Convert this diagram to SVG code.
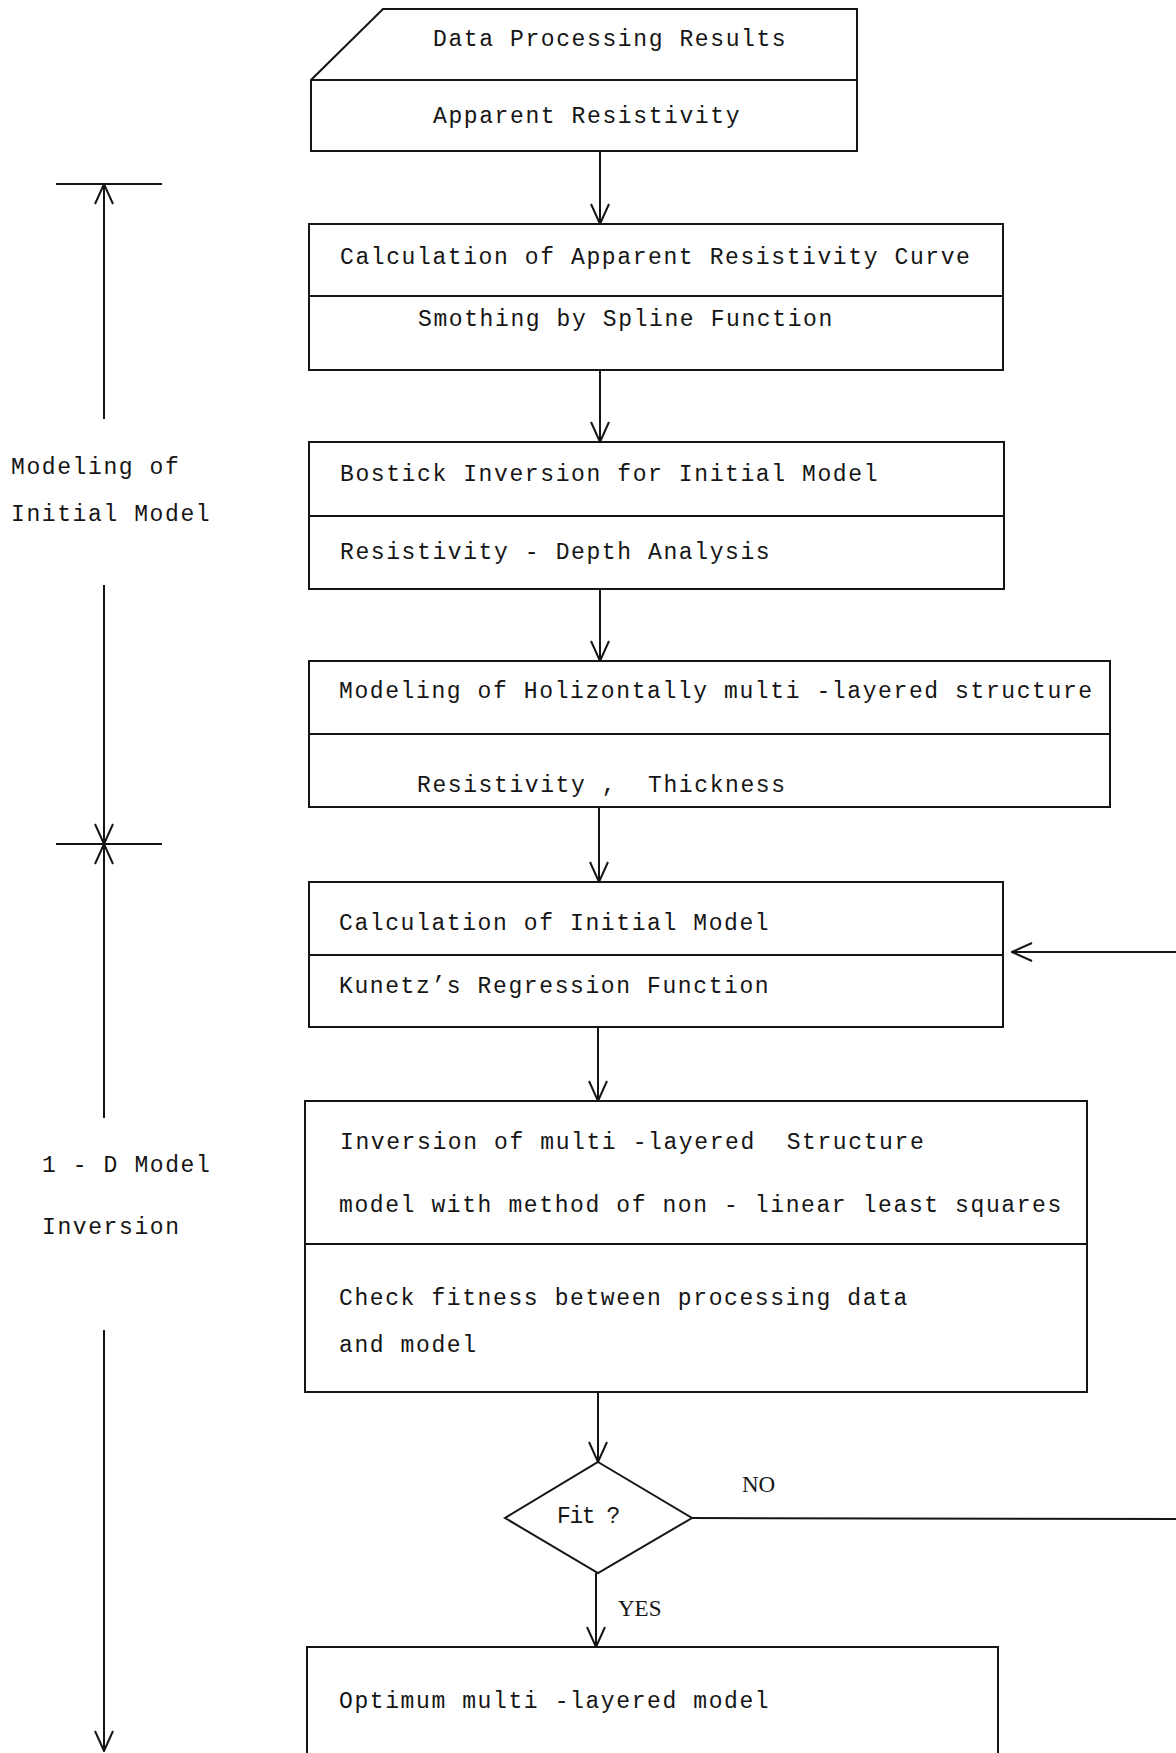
<svg xmlns="http://www.w3.org/2000/svg" width="1176" height="1753" viewBox="0 0 1176 1753">
<style>
  .bx{fill:none;stroke:#151515;stroke-width:2}
  .ln{fill:none;stroke:#151515;stroke-width:2}
  .t{font-family:"Liberation Mono","DejaVu Sans Mono",monospace;font-size:23px;letter-spacing:1.6px;fill:#151515;white-space:pre}
  .s{font-family:"Liberation Serif","Times New Roman",serif;font-size:23px;fill:#151515}
</style>
<defs>
  <marker id="v" viewBox="0 0 22 20" refX="21" refY="10" markerWidth="22" markerHeight="20" orient="auto" markerUnits="userSpaceOnUse">
    <path d="M1,1 L21,10 L1,19" fill="none" stroke="#151515" stroke-width="2"/>
  </marker>
</defs>
<rect width="1176" height="1753" fill="#fff"/>

<g id="n1">
  <path class="bx" d="M383,9 L857,9 L857,151 L311,151 L311,80 Z"/>
  <line class="ln" x1="311" y1="80" x2="857" y2="80"/>
  <text class="t" x="433" y="46">Data Processing Results</text>
  <text class="t" x="433" y="123">Apparent Resistivity</text>
</g>
<g id="n2">
  <rect class="bx" x="309" y="224" width="694" height="146"/>
  <line class="ln" x1="309" y1="296" x2="1003" y2="296"/>
  <text class="t" x="340" y="264">Calculation of Apparent Resistivity Curve</text>
  <text class="t" x="418" y="326">Smothing by Spline Function</text>
</g>
<g id="n3">
  <rect class="bx" x="309" y="442" width="695" height="147"/>
  <line class="ln" x1="309" y1="516" x2="1004" y2="516"/>
  <text class="t" x="340" y="481">Bostick Inversion for Initial Model</text>
  <text class="t" x="340" y="559">Resistivity - Depth Analysis</text>
</g>
<g id="n4">
  <rect class="bx" x="309" y="661" width="801" height="146"/>
  <line class="ln" x1="309" y1="734" x2="1110" y2="734"/>
  <text class="t" x="339" y="698">Modeling of Holizontally multi -layered structure</text>
  <text class="t" x="417" y="792">Resistivity ,  Thickness</text>
</g>
<g id="n5">
  <rect class="bx" x="309" y="882" width="694" height="145"/>
  <line class="ln" x1="309" y1="955" x2="1003" y2="955"/>
  <text class="t" x="339" y="930">Calculation of Initial Model</text>
  <text class="t" x="339" y="993">Kunetz’s Regression Function</text>
</g>
<g id="n6">
  <rect class="bx" x="305" y="1101" width="782" height="291"/>
  <line class="ln" x1="305" y1="1244" x2="1087" y2="1244"/>
  <text class="t" x="340" y="1149">Inversion of multi -layered  Structure</text>
  <text class="t" x="339" y="1212">model with method of non - linear least squares</text>
  <text class="t" x="339" y="1305">Check fitness between processing data</text>
  <text class="t" x="339" y="1352">and model</text>
</g>
<g id="n7">
  <polygon class="bx" points="598,1462 692,1518 598,1573 505,1518"/>
  <text class="t" x="557" y="1523" style="letter-spacing:-1.4px">Fit ?</text>
</g>
<g id="n8">
  <rect class="bx" x="307" y="1647" width="691" height="120"/>
  <text class="t" x="339" y="1708">Optimum multi -layered model</text>
</g>
<g id="labels">
  <text class="t" x="11" y="474">Modeling of</text>
  <text class="t" x="11" y="521">Initial Model</text>
  <text class="t" x="42" y="1172">1 - D Model</text>
  <text class="t" x="42" y="1234">Inversion</text>
  <text class="s" x="742" y="1492">NO</text>
  <text class="s" x="618" y="1616">YES</text>
</g>
<g id="connectors">
  <line class="ln" x1="600" y1="151" x2="600" y2="224" marker-end="url(#v)"/>
  <line class="ln" x1="600" y1="370" x2="600" y2="442" marker-end="url(#v)"/>
  <line class="ln" x1="600" y1="589" x2="600" y2="661" marker-end="url(#v)"/>
  <line class="ln" x1="599" y1="807" x2="599" y2="882" marker-end="url(#v)"/>
  <line class="ln" x1="598" y1="1027" x2="598" y2="1101" marker-end="url(#v)"/>
  <line class="ln" x1="598" y1="1392" x2="598" y2="1462" marker-end="url(#v)"/>
  <line class="ln" x1="596" y1="1573" x2="596" y2="1647" marker-end="url(#v)"/>
  <line class="ln" x1="692" y1="1518" x2="1176" y2="1519"/>
  <line class="ln" x1="1176" y1="952" x2="1012" y2="952" marker-end="url(#v)"/>
  <line class="ln" x1="56" y1="184" x2="162" y2="184"/>
  <line class="ln" x1="104" y1="419" x2="104" y2="184" marker-end="url(#v)"/>
  <line class="ln" x1="104" y1="585" x2="104" y2="844" marker-end="url(#v)"/>
  <line class="ln" x1="56" y1="844" x2="162" y2="844"/>
  <line class="ln" x1="104" y1="1118" x2="104" y2="844" marker-end="url(#v)"/>
  <line class="ln" x1="104" y1="1330" x2="104" y2="1751" marker-end="url(#v)"/>
</g>
</svg>
